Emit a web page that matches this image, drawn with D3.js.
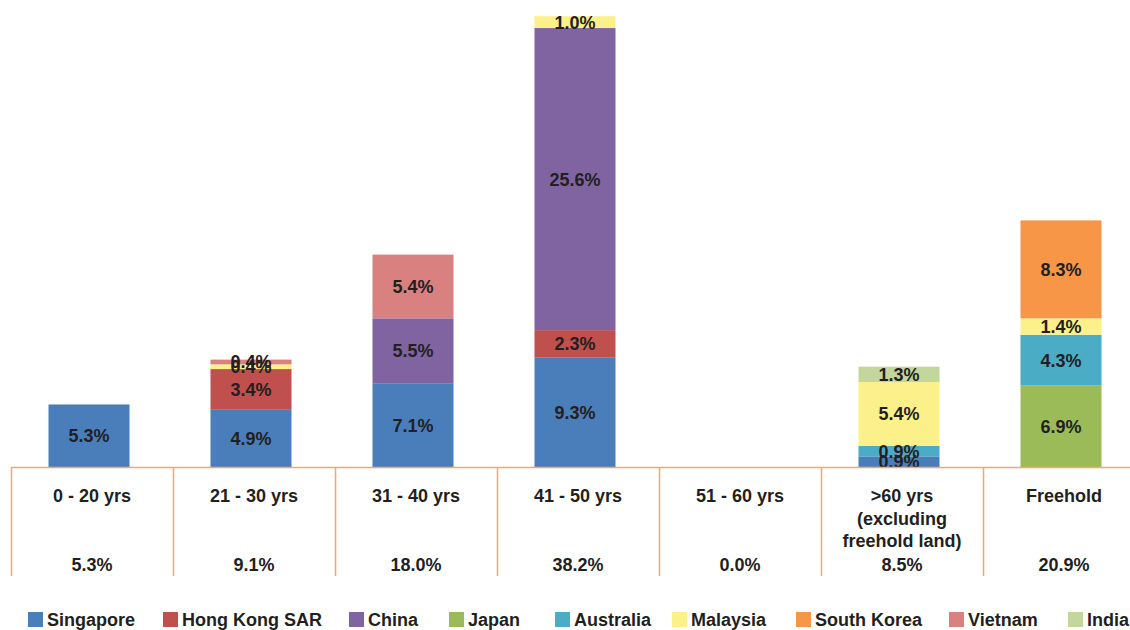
<!DOCTYPE html>
<html>
<head>
<meta charset="utf-8">
<script src="https://cdn.jsdelivr.net/npm/d3@7"></script>
<style>
  body { margin: 0; background: #fff; }
  text { font-family: "Liberation Sans", Arial, sans-serif; font-weight: bold; fill: #231f20; }
</style>
</head>
<body>
<div id="chart"></div>
<script>
var svgWidth = 1130;
var svgHeight = 630;

// categories (lease remaining) and the totals row under them
var categories = ["0 - 20 yrs", "21 - 30 yrs", "31 - 40 yrs", "41 - 50 yrs", "51 - 60 yrs", ">60 yrs|(excluding|freehold land)", "Freehold"];
var totals = ["5.3%", "9.1%", "18.0%", "38.2%", "0.0%", "8.5%", "20.9%"];

// series, in stacking order (bottom to top)
var countries = ["Singapore", "Hong Kong SAR", "China", "Japan", "Australia", "Malaysia", "South Korea", "Vietnam", "India"];
var colors = ["#4a7ebb", "#c0504d", "#8064a2", "#9bbb59", "#4bacc6", "#fbf08a", "#f79646", "#d98080", "#c3d69b"];

var singapore   = [5.3, 4.9, 7.1, 9.3, 0, 0.9, 0];
var hongKong    = [0, 3.4, 0, 2.3, 0, 0, 0];
var china       = [0, 0, 5.5, 25.6, 0, 0, 0];
var japan       = [0, 0, 0, 0, 0, 0, 6.9];
var australia   = [0, 0, 0, 0, 0, 0.9, 4.3];
var malaysia    = [0, 0.4, 0, 1.0, 0, 5.4, 1.4];
var southKorea  = [0, 0, 0, 0, 0, 0, 8.3];
var vietnam     = [0, 0.4, 5.4, 0, 0, 0, 0];
var india       = [0, 0, 0, 0, 0, 1.3, 0];

var seriesValues = [singapore, hongKong, china, japan, australia, malaysia, southKorea, vietnam, india];

var baseline = 467;
var fontSize = "18px";

var svg = d3.select("#chart")
  .append("svg")
  .attr("width", svgWidth)
  .attr("height", svgHeight);

// rows for d3.stack
var rows = categories.map(function(c, i) {
  var row = { cat: c };
  countries.forEach(function(k, j) { row[k] = seriesValues[j][i]; });
  return row;
});

var stacked = d3.stack().keys(countries)(rows);

var xBar = d3.scaleBand()
  .domain(categories)
  .range([8, 1142])
  .paddingInner(0.5)
  .paddingOuter(0.25);

var xCol = d3.scaleBand()
  .domain(categories)
  .range([11, 1145]);

var y = d3.scaleLinear()
  .domain([0, 40])
  .range([baseline, baseline - 40 * 11.8]);

var color = d3.scaleOrdinal().domain(countries).range(colors);

var layers = svg.selectAll("g.layer")
  .data(stacked)
  .enter()
  .append("g")
  .attr("class", "layer")
  .attr("fill", d => color(d.key));

layers.selectAll("rect")
  .data(d => d.filter(s => s[1] - s[0] > 0))
  .enter()
  .append("rect")
  .attr("x", d => xBar(d.data.cat))
  .attr("y", d => y(d[1]))
  .attr("width", xBar.bandwidth())
  .attr("height", d => y(d[0]) - y(d[1]));

// data labels
stacked.forEach(function(layer) {
  svg.append("g").selectAll("text")
    .data(layer.filter(s => s[1] - s[0] > 0))
    .enter()
    .append("text")
    .attr("x", d => xBar(d.data.cat) + xBar.bandwidth() / 2)
    .attr("y", d => (y(d[0]) + y(d[1])) / 2)
    .attr("dy", "0.36em")
    .attr("text-anchor", "middle")
    .style("font-size", fontSize)
    .text(d => (d[1] - d[0]).toFixed(1) + "%");
});

// table lines
var tableColor = "#f5a66a";
svg.append("line")
  .attr("x1", xCol.range()[0]).attr("x2", svgWidth)
  .attr("y1", baseline + 0.5).attr("y2", baseline + 0.5)
  .attr("stroke", tableColor).attr("stroke-width", 1.5);

svg.selectAll("line.col")
  .data(categories)
  .enter()
  .append("line")
  .attr("class", "col")
  .attr("x1", d => xCol(d) + 0.5)
  .attr("x2", d => xCol(d) + 0.5)
  .attr("y1", baseline)
  .attr("y2", 576)
  .attr("stroke", tableColor)
  .attr("stroke-width", 1.5);

// category labels
var catLabels = svg.selectAll("text.cat")
  .data(categories)
  .enter()
  .append("text")
  .attr("class", "cat")
  .attr("x", d => xCol(d) + xCol.bandwidth() / 2)
  .attr("y", 502)
  .attr("text-anchor", "middle")
  .style("font-size", fontSize);

catLabels.each(function(d) {
  var el = d3.select(this);
  d.split("|").forEach(function(part, i) {
    el.append("tspan")
      .attr("x", el.attr("x"))
      .attr("dy", i === 0 ? 0 : 22.5)
      .text(part);
  });
});

svg.selectAll("text.total")
  .data(totals)
  .enter()
  .append("text")
  .attr("class", "total")
  .attr("x", (d, i) => xCol(categories[i]) + xCol.bandwidth() / 2)
  .attr("y", 571)
  .attr("text-anchor", "middle")
  .style("font-size", fontSize)
  .text(d => d);

// legend
var legendX = [28, 163, 349, 449, 555, 672, 796, 949, 1068];
var legend = svg.selectAll("g.legend")
  .data(countries)
  .enter()
  .append("g")
  .attr("class", "legend")
  .attr("transform", (d, i) => `translate(${legendX[i]}, 611)`);

legend.append("rect")
  .attr("y", 1)
  .attr("width", 15)
  .attr("height", 15)
  .attr("fill", d => color(d));

legend.append("text")
  .attr("x", 19)
  .attr("y", 15)
  .style("font-size", fontSize)
  .text(d => d);
</script>
</body>
</html>
